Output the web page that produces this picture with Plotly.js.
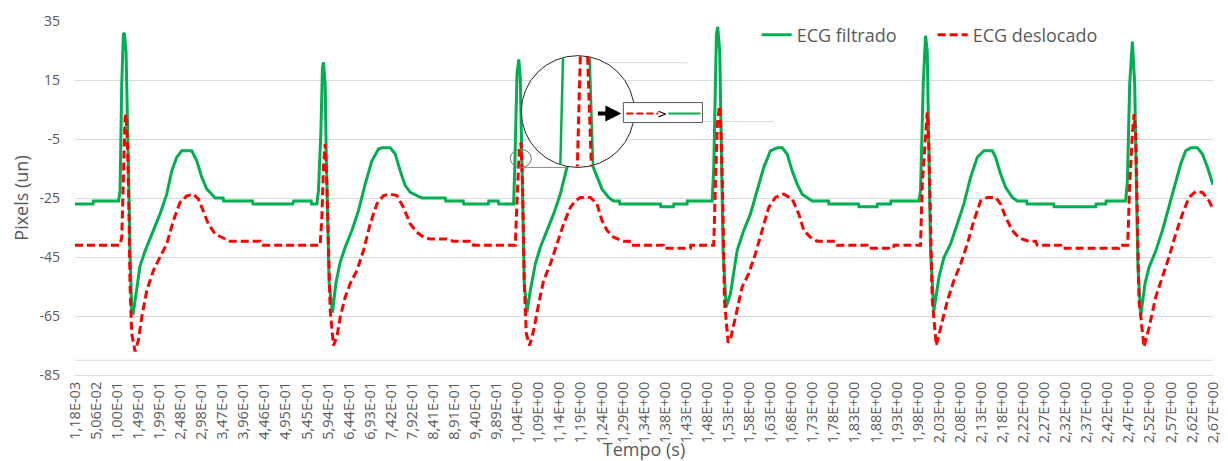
<!DOCTYPE html>
<html>
<head>
<meta charset="utf-8">
<script src="https://cdn.plot.ly/plotly-3.0.1.min.js"></script>
<style>html,body{margin:0;padding:0;background:#fff}#chart{width:1228px;height:461px}</style>
</head>
<body>
<div id="chart"></div>
<script>
// ---- Data ----
const timeTickLabels = ['1,18E-03','5,06E-02','1,00E-01','1,49E-01','1,99E-01','2,48E-01','2,98E-01','3,47E-01','3,96E-01','4,46E-01','4,95E-01','5,45E-01','5,94E-01','6,44E-01','6,93E-01','7,42E-01','7,92E-01','8,41E-01','8,91E-01','9,40E-01','9,89E-01','1,04E+00','1,09E+00','1,14E+00','1,19E+00','1,24E+00','1,29E+00','1,34E+00','1,38E+00','1,43E+00','1,48E+00','1,53E+00','1,58E+00','1,63E+00','1,68E+00','1,73E+00','1,78E+00','1,83E+00','1,88E+00','1,93E+00','1,98E+00','2,03E+00','2,08E+00','2,13E+00','2,18E+00','2,22E+00','2,27E+00','2,32E+00','2,37E+00','2,42E+00','2,47E+00','2,52E+00','2,57E+00','2,62E+00','2,67E+00'];
const samplingRateHz = 850;      // sample n sits at n/850 s
const samplesPerTickLabel = 42;  // one category label every 42 samples
const yTickValues = [-85,-65,-45,-25,-5,15,35];
const yTickLabels = ['-85','-65','-45','-25','-5','15','35'];

// [time (s), pixels]
const ecgFiltrado = [
[0.0012,-27],[0.0434,-27],[0.0446,-26],[0.1032,-26],[0.1068,-22.5],[0.1108,13.6],[0.1145,30.5],[0.1169,31],[0.1208,24.8],[0.1248,2.3],[0.1272,-20],[0.1302,-43],[0.1342,-63],[0.1373,-64.5],[0.1459,-56.4],[0.1537,-48],[0.1654,-43],[0.1811,-37.2],[0.2006,-30.4],[0.2163,-23.7],[0.2281,-15.8],[0.2398,-11.2],[0.2515,-9],[0.2750,-9],[0.2867,-12.4],[0.2984,-18],[0.3102,-22],[0.3219,-23.7],[0.3296,-25],[0.3484,-25],[0.3496,-26],[0.4176,-26],[0.4188,-27],[0.5115,-27],[0.5138,-26],[0.5549,-26],[0.5561,-27],[0.5683,-27],
[0.5720,-22.5],[0.5776,-3.3],[0.5814,19.2],[0.5837,21],[0.5877,13.6],[0.5901,-9],[0.5931,-31.5],[0.5971,-54],[0.6049,-63.8],[0.6128,-54],[0.6229,-46.8],[0.6347,-41.7],[0.6504,-36],[0.6659,-29.3],[0.6816,-20.3],[0.6973,-12.4],[0.7128,-8.4],[0.7208,-8],[0.7402,-8],[0.7520,-10.1],[0.7637,-15.8],[0.7754,-20.8],[0.7872,-23.1],[0.8029,-24.3],[0.8146,-25],[0.8693,-25],[0.8705,-26],[0.9115,-26],[0.9127,-27],[0.9702,-27],[0.9713,-26],[0.9936,-26],[0.9948,-27],[1.0295,-27],
[1.0323,-15],[1.0375,17],[1.0417,22],[1.0452,15.8],[1.0492,-9],[1.0516,-31.5],[1.0546,-54],[1.0610,-63.7],[1.0687,-56.4],[1.0804,-47.4],[1.0922,-41.7],[1.1079,-36],[1.1234,-30.4],[1.1391,-23.7],[1.1548,-14.6],[1.1696,-9.5],[1.1860,-8],[1.2024,-9.5],[1.2158,-14.6],[1.2252,-18],[1.2369,-22],[1.2524,-24.8],[1.2634,-26],[1.2775,-26],[1.2787,-27],[1.3737,-27],[1.3749,-28],[1.4042,-28],[1.4054,-27],[1.4363,-27],[1.4370,-26],[1.4950,-26],
[1.4988,-15],[1.5051,30.5],[1.5081,33],[1.5128,24.8],[1.5161,-9],[1.5208,-43],[1.5278,-62],[1.5379,-57.5],[1.5537,-42.8],[1.5691,-36],[1.5849,-30.4],[1.6006,-22.5],[1.6161,-14.6],[1.6318,-9],[1.6475,-8],[1.6592,-8],[1.6710,-10.1],[1.6827,-15.8],[1.6944,-20.3],[1.7062,-23.7],[1.7179,-24.8],[1.7296,-26],[1.7679,-26],[1.7690,-27],[1.8383,-27],[1.8394,-28],[1.8817,-28],[1.8828,-27],[1.9133,-27],[1.9145,-26],[1.9797,-26],
[1.9837,-22.5],[1.9900,13.6],[1.9954,30],[1.9994,24.8],[2.0032,-9],[2.0072,-43],[2.0149,-63.3],[2.0267,-52],[2.0384,-45.2],[2.0541,-40.6],[2.0698,-33.8],[2.0853,-27],[2.1010,-18],[2.1168,-11.2],[2.1322,-9],[2.1519,-9],[2.1597,-11.2],[2.1714,-16.9],[2.1831,-21.4],[2.1989,-24.8],[2.2106,-26],[2.2324,-26],[2.2336,-27],[2.2958,-27],[2.2969,-28],[2.3943,-28],[2.3955,-27],[2.4178,-27],[2.4189,-26],[2.4647,-26],
[2.4687,-19],[2.4741,13.6],[2.4804,28],[2.4858,13.6],[2.4898,-20.3],[2.4935,-48.5],[2.4999,-65],[2.5100,-54],[2.5194,-48.5],[2.5351,-43],[2.5508,-36],[2.5663,-28.2],[2.5820,-20.3],[2.5937,-13.5],[2.6055,-9],[2.6172,-8],[2.6329,-8],[2.6446,-10.1],[2.6564,-14.6],[2.6681,-19.8],[2.6694,-20.5]
];

const ecgDeslocado = [
[0.0012,-41],[0.1068,-41],[0.1108,-38.3],[0.1145,-20],[0.1185,2.3],[0.1208,3.4],[0.1248,-9],[0.1279,-31.8],[0.1302,-54.4],[0.1342,-71],[0.1420,-77],[0.1497,-73.3],[0.1577,-65.4],[0.1694,-56.4],[0.1849,-49.6],[0.2006,-45],[0.2163,-40.6],[0.2318,-32.7],[0.2475,-26.5],[0.2632,-24.3],[0.2787,-23.7],[0.2905,-25.3],[0.3022,-29.3],[0.3139,-33.8],[0.3296,-37.2],[0.3454,-38.3],[0.3648,-39.7],[0.4352,-39.7],[0.4388,-41],[0.5760,-41],
[0.5800,-31.5],[0.5837,-14.6],[0.5877,-6.7],[0.5917,-20.3],[0.5955,-43],[0.5995,-63],[0.6072,-75],[0.6152,-72.2],[0.6229,-65.4],[0.6347,-58.6],[0.6464,-54],[0.6621,-49.6],[0.6776,-42.8],[0.6933,-33.8],[0.7090,-27],[0.7245,-24.2],[0.7402,-23.7],[0.7560,-24.2],[0.7714,-28.2],[0.7872,-33.8],[0.8029,-36.6],[0.8184,-38.3],[0.8341,-38.9],[0.8733,-38.9],[0.8888,-39.7],[0.9326,-39.7],[0.9357,-41],[1.0335,-41],
[1.0375,-26],[1.0429,-9],[1.0469,-6.2],[1.0506,-20.3],[1.0546,-54],[1.0593,-71],[1.0671,-75],[1.0764,-70],[1.0882,-61],[1.0999,-53],[1.1156,-47.4],[1.1313,-40.6],[1.1468,-33.8],[1.1626,-28.2],[1.1743,-26],[1.1860,-24.8],[1.2095,-24.8],[1.2252,-27],[1.2369,-32.7],[1.2487,-36],[1.2641,-38.3],[1.2876,-39.7],[1.3010,-39.7],[1.3033,-41],[1.3807,-41],[1.3819,-42],[1.4441,-42],[1.4453,-41],[1.4988,-41],
[1.5027,-20.3],[1.5074,0],[1.5121,6.2],[1.5161,-3.3],[1.5208,-31.5],[1.5239,-59.6],[1.5325,-74],[1.5379,-73],[1.5497,-65.4],[1.5654,-55.2],[1.5809,-50.6],[1.5966,-43.9],[1.6123,-36],[1.6278,-28.2],[1.6435,-24.8],[1.6630,-23.7],[1.6827,-25.3],[1.6982,-30.4],[1.7099,-36],[1.7256,-38.3],[1.7414,-39.7],[1.7843,-39.7],[1.7883,-41],[1.8582,-41],[1.8594,-42],[1.9204,-42],[1.9216,-41],[1.9837,-41],
[1.9877,-20.3],[1.9954,-3.3],[1.9994,4],[2.0032,-7.2],[2.0072,-31.5],[2.0112,-59.6],[2.0206,-75],[2.0306,-69],[2.0464,-60],[2.0619,-53],[2.0776,-47.4],[2.0933,-40.6],[2.1088,-32.7],[2.1245,-26],[2.1402,-24.8],[2.1597,-24.8],[2.1714,-27],[2.1831,-31.5],[2.1989,-36],[2.2144,-38.5],[2.2378,-39.7],[2.2535,-39.7],[2.2575,-41],[2.3122,-41],[2.3134,-42],[2.4483,-42],[2.4495,-41],[2.4694,-41],
[2.4741,-20.3],[2.4804,-3.3],[2.4842,3.4],[2.4882,-3.3],[2.4921,-31.5],[2.4959,-59.6],[2.5076,-75.5],[2.5194,-69],[2.5351,-58.6],[2.5508,-51.8],[2.5663,-45],[2.5820,-37.2],[2.5977,-30.4],[2.6132,-24.8],[2.6289,-22.8],[2.6446,-23.1],[2.6601,-26],[2.6694,-28.7]
];

// ---- Inset (zoom detail) geometry, in axis units ----
const inset = {
  bigCircle: {x0:1.0476, x1:1.3127, y0:-14.64, y1:23.26},
  smallCircle: {x0:1.0218, x1:1.0711, y0:-14.64, y1:-8.55},
  connector: {x0:1.0492, x1:1.1548, y:-14.64},
  greenA: {x0:1.1454, y0:22.4, x1:1.1391, y1:-13.8},
  redA: {x0:1.1860, y0:23.0, x1:1.1790, y1:-14.3},
  greenB: {x0:1.2078, y0:22.8, x1:1.2158, y1:-13.9},
  redB: {x0:1.2031, y0:22.9, x1:1.2118, y1:-14.2},
  arrowTip: {x:1.2822, y:3.63},
  box: {x0:1.2869, x1:1.4723, y0:0.58, y1:7.35},
  boxRed: {x0:1.2939, x1:1.3690, y:3.63},
  boxMark: {x:1.3784, y:3.63},
  boxGreen: {x0:1.3925, x1:1.4676, y:3.63},
  strayGrid1: {x0:1.2470, x1:1.4370, y:20.87},
  strayGrid2: {x0:1.4723, x1:1.6388, y:0.92}
};

const GREEN = '#00B050', RED = '#FF0000', GRID = '#d9d9d9', TXT = '#595959';
const tickTimes = timeTickLabels.map((_, k) => (1 + samplesPerTickLabel * k) / samplingRateHz);

const traces = [
  {x: ecgFiltrado.map(p => p[0]), y: ecgFiltrado.map(p => p[1]), type: 'scatter', mode: 'lines',
   name: 'ECG filtrado', line: {color: GREEN, width: 3}},
  {x: ecgDeslocado.map(p => p[0]), y: ecgDeslocado.map(p => p[1]), type: 'scatter', mode: 'lines',
   name: 'ECG deslocado', line: {color: RED, width: 3, dash: '8px,4px'}}
];

function seg(o, color, width, dash, layer) {
  return {type:'line', xref:'x', yref:'y', x0:o.x0, x1:o.x1,
          y0:(o.y0 !== undefined ? o.y0 : o.y), y1:(o.y1 !== undefined ? o.y1 : o.y),
          line:{color:color, width:width, dash:dash || 'solid'}, layer: layer || 'above'};
}

const shapes = [
  {type:'line', xref:'paper', yref:'y', x0:0, x1:1, y0:-80, y1:-80, line:{color:GRID, width:1}, layer:'below'},
  seg(inset.strayGrid1, GRID, 1, null, 'below'),
  seg(inset.strayGrid2, GRID, 1, null, 'below'),
  {type:'circle', xref:'x', yref:'y', x0:inset.smallCircle.x0, x1:inset.smallCircle.x1, y0:inset.smallCircle.y0, y1:inset.smallCircle.y1,
   line:{color:'#707070', width:1}, fillcolor:'rgba(0,0,0,0)', layer:'above'},
  seg(inset.connector, '#8c8c8c', 1),
  {type:'circle', xref:'x', yref:'y', x0:inset.bigCircle.x0, x1:inset.bigCircle.x1, y0:inset.bigCircle.y0, y1:inset.bigCircle.y1,
   line:{color:'#262626', width:1}, fillcolor:'#ffffff', layer:'above'},
  seg(inset.greenA, GREEN, 2.5),
  seg(inset.greenB, GREEN, 2.5),
  seg(inset.redA, RED, 3, '8px,4px'),
  seg(inset.redB, RED, 3, '8px,4px'),
  {type:'rect', xref:'x', yref:'y', x0:inset.box.x0, x1:inset.box.x1, y0:inset.box.y0, y1:inset.box.y1,
   line:{color:'#595959', width:1}, fillcolor:'#ffffff', layer:'above'},
  seg(inset.boxRed, RED, 2, '7px,3px'),
  seg(inset.boxGreen, GREEN, 2)
];

const annotations = [
  {x: inset.arrowTip.x, y: inset.arrowTip.y, xref:'x', yref:'y', text:'', showarrow:true,
   ax:-25, ay:0, arrowhead:2, arrowsize:0.8, arrowwidth:4, arrowcolor:'#000000', standoff:0},
  {x: inset.boxMark.x, y: inset.boxMark.y, xref:'x', yref:'y', text:'&gt;', showarrow:false,
   font:{family:'DejaVu Sans, sans-serif', size:12, color:'#000000'}}
];

const layout = {
  width: 1228, height: 461,
  margin: {l:75, r:15, t:21, b:86, pad:0},
  paper_bgcolor: '#ffffff', plot_bgcolor: '#ffffff',
  font: {family: '"Open Sans", sans-serif', color: TXT, size: 14},
  showlegend: true,
  legend: {orientation:'h', x:0.599, xanchor:'left', y:0.96, yanchor:'middle',
           font:{size:18, color:TXT}, bgcolor:'rgba(0,0,0,0)', entrywidth:131, entrywidthmode:'pixels'},
  xaxis: {type:'linear', range:[tickTimes[0], tickTimes[tickTimes.length-1]],
          tickmode:'array', tickvals: tickTimes, ticktext: timeTickLabels, tickangle:-90,
          tickfont:{size:14.5, color:TXT}, showgrid:false, zeroline:false,
          showline:true, linecolor:GRID, linewidth:1, ticks:'',
          title:{text:'Tempo (s)', font:{size:18, color:TXT}, standoff:3}},
  yaxis: {range:[-85, 35], tickmode:'array', tickvals: yTickValues, ticktext: yTickLabels,
          tickfont:{size:14, color:TXT}, showgrid:true, gridcolor:GRID, gridwidth:1,
          zeroline:false, showline:false, ticks:'', ticklabelstandoff:14,
          title:{text:'Pixels (un)', font:{size:18, color:TXT}, standoff:6}},
  shapes: shapes,
  annotations: annotations
};

Plotly.newPlot('chart', traces, layout, {staticPlot:true, displayModeBar:false});
</script>
</body>
</html>
